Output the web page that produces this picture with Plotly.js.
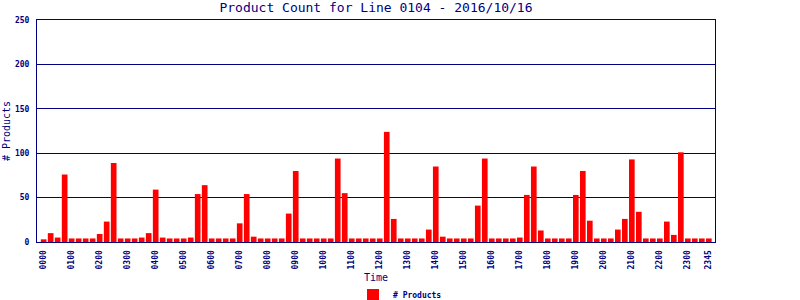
<!DOCTYPE html>
<html>
<head>
<meta charset="utf-8">
<script src="https://cdn.plot.ly/plotly-3.0.1.min.js"></script>
<style>html,body{margin:0;padding:0;background:#fff;}#chart{width:800px;height:300px;}</style>
</head>
<body>
<div id="chart"></div>
<script>
var times = [
 "0000","0015","0030","0045","0100","0115","0130","0145",
 "0200","0215","0230","0245","0300","0315","0330","0345",
 "0400","0415","0430","0445","0500","0515","0530","0545",
 "0600","0615","0630","0645","0700","0715","0730","0745",
 "0800","0815","0830","0845","0900","0915","0930","0945",
 "1000","1015","1030","1045","1100","1115","1130","1145",
 "1200","1215","1230","1245","1300","1315","1330","1345",
 "1400","1415","1430","1445","1500","1515","1530","1545",
 "1600","1615","1630","1645","1700","1715","1730","1745",
 "1800","1815","1830","1845","1900","1915","1930","1945",
 "2000","2015","2030","2045","2100","2115","2130","2145",
 "2200","2215","2230","2245","2300","2315","2330","2345"
];
var products = [
 3,10,5,76,4,4,4,4,
 9,23,89,4,4,4,5,10,
 59,5,4,4,4,5,54,64,
 4,4,4,4,21,54,6,4,
 4,4,4,32,80,4,4,4,
 4,4,94,55,4,4,4,4,
 4,124,26,4,4,4,4,14,
 85,6,4,4,4,4,41,94,
 4,4,4,4,5,53,85,13,
 4,4,4,4,53,80,24,4,
 4,4,14,26,93,34,4,4,
 4,23,8,101,4,4,4,4
];
var tickLabels = ["0000","0100","0200","0300","0400","0500","0600","0700","0800","0900","1000","1100",
 "1200","1300","1400","1500","1600","1700","1800","1900","2000","2100","2200","2300","2345"];
var yTicks = [0,50,100,150,200,250];

var navy = '#000080';
var mono = 'DejaVu Sans Mono, Liberation Mono, monospace';

var trace = {
  type: 'bar',
  x: times,
  y: products,
  name: '# Products',
  marker: {color: '#FF0000', line: {width: 0}},
  hoverinfo: 'x+y'
};

var layout = {
  width: 800, height: 300,
  margin: {l: 37, r: 85, t: 20, b: 58, pad: 0, autoexpand: false},
  paper_bgcolor: '#ffffff',
  plot_bgcolor: '#ffffff',
  bargap: 0.19,
  showlegend: true,
  title: {
    text: 'Product Count for Line 0104 - 2016/10/16',
    font: {family: mono, size: 13, color: navy},
    x: 0.5, xref: 'paper', xanchor: 'center',
    y: 0.975, yref: 'container', yanchor: 'middle'
  },
  xaxis: {
    type: 'category',
    range: [-0.95, 95.88],
    tickmode: 'array',
    tickvals: tickLabels,
    ticktext: tickLabels,
    tickangle: -90,
    ticks: '',
    ticklabelstandoff: 4,
    tickfont: {family: mono, size: 8, color: navy, weight: 'bold'},
    showgrid: false,
    showline: true, linecolor: navy, linewidth: 1, mirror: true,
    zeroline: false,
    title: {text: 'Time', font: {family: mono, size: 10, color: navy}, standoff: 5},
    automargin: false
  },
  yaxis: {
    range: [0, 250],
    tickmode: 'array',
    tickvals: yTicks,
    ticks: '',
    ticklabelstandoff: 5,
    tickfont: {family: mono, size: 8, color: navy, weight: 'bold'},
    showgrid: true, gridcolor: navy, gridwidth: 1,
    showline: true, linecolor: navy, linewidth: 1, mirror: true,
    zeroline: false,
    title: {text: '# Products', font: {family: mono, size: 10, color: navy}, standoff: 2},
    automargin: false
  },
  legend: {
    orientation: 'h',
    xref: 'container', x: 0.5, xanchor: 'center',
    yref: 'paper', y: -0.239, yanchor: 'middle',
    font: {family: mono, size: 8, color: navy, weight: 'bold'},
    bgcolor: 'rgba(0,0,0,0)',
    itemwidth: 30
  }
};

Plotly.newPlot('chart', [trace], layout, {displayModeBar: false, staticPlot: true});
</script>
</body>
</html>
